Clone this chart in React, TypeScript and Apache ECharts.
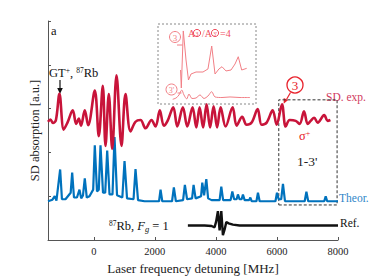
import React, { useEffect, useRef } from "react";
import * as echarts from "echarts";

// ---- Data (x: laser detuning in MHz, y: absorption in a.u.) ----
const xTicks = [0, 2000, 4000, 6000, 8000];

const expX = [-1500, -1420, -1338, -1240, -1125, -984, -862, -689, -577, -492, -420, -295, -184, 33, 164, 295, 384, 492, 603, 744, 908, 1039, 1203, 1367, 1531, 1695, 1892, 2023, 2164, 2295, 2417, 2604, 2735, 2918, 3063, 3236, 3358, 3466, 3581, 3695, 3810, 3925, 4040, 4155, 4318, 4548, 4679, 4860, 5007, 5171, 5368, 5499, 5663, 5860, 5991, 6165, 6286, 6417, 6614, 6745, 6886, 7007, 7106, 7220, 7335, 7548, 7663, 7752];
const expY = [2.70, 2.75, 2.67, 2.74, 3.34, 2.52, 2.68, 2.96, 2.65, 2.77, 2.61, 2.96, 2.62, 3.41, 2.37, 3.52, 2.15, 3.33, 2.08, 3.76, 2.15, 3.33, 2.48, 2.70, 2.74, 2.55, 2.74, 2.59, 2.96, 2.61, 2.72, 3.03, 2.59, 3.03, 2.59, 3.03, 2.57, 3.03, 2.57, 3.10, 2.57, 3.05, 2.57, 3.03, 2.59, 3.03, 2.61, 2.81, 2.63, 2.68, 2.99, 2.63, 2.68, 2.96, 2.63, 3.10, 2.59, 2.74, 2.72, 2.65, 2.94, 2.65, 2.72, 2.79, 2.68, 2.85, 2.72, 2.74];

const theoX = [-1500, -1354, -1279, -1223, -1102, -1043, -928, -757, -708, -649, -551, -469, -413, -354, -295, -230, -141, -20, 33, 105, 164, 220, 302, 374, 439, 515, 613, 679, 761, 935, 1007, 1089, 1302, 1367, 1449, 1662, 2138, 2187, 2243, 2564, 2623, 2689, 2925, 2984, 3056, 3220, 3269, 3335, 3515, 3554, 3613, 3686, 3745, 3859, 4122, 4177, 4236, 4482, 4538, 4597, 4679, 4722, 4777, 4843, 4886, 4942, 5089, 5128, 5171, 5328, 5378, 5433, 5951, 6001, 6057, 6139, 6197, 6263, 6909, 6965, 7024, 7548, 7597, 7646, 8000];
const theoY = [0.885, 0.92, 1.00, 0.90, 1.61, 0.93, 0.93, 1.08, 1.54, 0.97, 0.97, 1.15, 0.95, 1.02, 1.41, 0.97, 1.00, 1.15, 2.16, 1.11, 1.15, 2.16, 1.08, 1.08, 2.04, 1.04, 1.04, 2.35, 1.02, 0.97, 1.80, 0.95, 0.93, 1.62, 0.91, 0.885, 0.885, 1.15, 0.885, 0.885, 1.20, 0.885, 0.91, 1.26, 0.93, 0.95, 1.26, 0.95, 1.00, 1.31, 1.02, 1.39, 0.95, 0.91, 0.91, 1.22, 0.91, 0.91, 1.11, 0.93, 0.93, 1.04, 0.93, 0.93, 1.04, 0.91, 0.91, 0.97, 0.885, 0.885, 1.08, 0.885, 0.885, 1.08, 0.93, 0.93, 1.28, 0.885, 0.885, 1.10, 0.885, 0.885, 0.996, 0.885, 0.885];

const refX = [3082, 3630, 3859, 3957, 4007, 4066, 4122, 4177, 4230, 4286, 4341, 4417, 4557, 4777, 8000];
const refY = [0.33, 0.33, 0.32, 0.29, 0.42, 0.66, 0.22, 0.66, 0.11, 0.24, 0.41, 0.38, 0.35, 0.33, 0.33];

// Inset (arbitrary units)
const insetAX = [23.0, 23.8, 25.8, 28.6, 31.1, 33.7, 38.8, 45.9, 51.0, 54.8, 58.2, 62.2, 65.3, 69.4, 74.5, 78.6, 81.9, 85.4, 90.5];
const insetAY = [42.5, 20, 91.3, 55, 30, 37.5, 40, 40, 43.8, 72.5, 37.5, 43.8, 46.6, 41.3, 42.5, 50, 59.1, 42.5, 44.6];
const insetBX = [15.0, 18.4, 21.4, 24.2, 26.5, 29.3, 31.6, 34.7, 38.8, 42.9, 46.9, 51.0, 54.8, 58.2, 65.3, 73.5, 83.7, 93.9];
const insetBY = [5.9, 7.5, 11.3, 17.5, 11.3, 6.3, 12.5, 6.9, 7.5, 11.3, 6.9, 10, 15.4, 8.8, 8.1, 8.8, 8.1, 8.1];

const zip = (xs: number[], ys: number[]) => xs.map((x, i) => [x, ys[i]]);

const SERIF = '"Liberation Serif", "DejaVu Serif", serif';
const RED = "#c8143a";
const BLUE = "#0072bd";
const PINK = "#f27f86";
const BRIGHT = "#e8202a";

function txt(x: number, y: number, text: string, size: number, fill: string, extra: any = {}) {
  return {
    type: "text",
    x,
    y,
    style: { text, fontSize: size, fontFamily: SERIF, fill, verticalAlign: "middle", ...extra },
  };
}

function circ(cx: number, cy: number, r: number, color: string, label: string, size: number, lw = 1) {
  return [
    { type: "circle", shape: { cx, cy, r }, style: { fill: "none", stroke: color, lineWidth: lw } },
    txt(cx, cy + 0.5, label, size, color, { align: "center" }),
  ];
}

export default function App() {
  const ref = useRef<HTMLDivElement>(null);
  useEffect(() => {
    const chart = echarts.init(ref.current!, null, { renderer: "svg" });
    const axisColor = "#555";
    const option: any = {
      animation: false,
      backgroundColor: "#fff",
      grid: [
        { left: 48, right: 36, top: 21, bottom: 33 },
        { left: 158, top: 24, width: 98, height: 80 },
      ],
      xAxis: [
        {
          type: "value",
          gridIndex: 0,
          min: -1500,
          max: 8000,
          axisLine: { show: true, onZero: false, lineStyle: { color: axisColor } },
          axisTick: { show: true, inside: true, length: 3, customValues: xTicks, lineStyle: { color: axisColor } },
          axisLabel: {
            customValues: xTicks,
            formatter: (v: number) => String(v),
            color: "#222",
            fontFamily: SERIF,
            fontSize: 10.5,
            margin: 6,
          },
          splitLine: { show: false },
          name: "Laser frequency detuning [MHz]",
          nameLocation: "middle",
          nameGap: 22,
          nameTextStyle: { fontFamily: SERIF, fontSize: 13, color: "#222" },
        },
        { type: "value", gridIndex: 1, min: 0, max: 100, show: false },
      ],
      yAxis: [
        {
          type: "value",
          gridIndex: 0,
          min: 0,
          max: 5,
          interval: 1,
          axisLine: { show: true, onZero: false, lineStyle: { color: axisColor } },
          axisTick: { show: true, inside: true, length: 3, lineStyle: { color: axisColor } },
          axisLabel: { show: false },
          splitLine: { show: false },
          name: "SD absorption [a.u.]",
          nameLocation: "middle",
          nameGap: 7,
          nameTextStyle: { fontFamily: SERIF, fontSize: 12.5, color: "#222" },
        },
        { type: "value", gridIndex: 1, min: 0, max: 100, show: false },
      ],
      series: [
        {
          type: "line",
          xAxisIndex: 0,
          yAxisIndex: 0,
          data: zip(refX, refY),
          showSymbol: false,
          lineStyle: { color: "#111", width: 2.4 },
        },
        {
          type: "line",
          xAxisIndex: 0,
          yAxisIndex: 0,
          data: zip(theoX, theoY),
          showSymbol: false,
          lineStyle: { color: BLUE, width: 2.2 },
          markArea: {
            silent: true,
            itemStyle: { color: "rgba(0,0,0,0)", borderColor: "#333", borderWidth: 1, borderType: [3, 2] },
            data: [[{ xAxis: 6060, yAxis: 0.8 }, { xAxis: 7970, yAxis: 3.2 }]],
          },
        },
        {
          type: "line",
          xAxisIndex: 0,
          yAxisIndex: 0,
          data: zip(expX, expY),
          showSymbol: false,
          smooth: 0.35,
          lineStyle: { color: RED, width: 2.6 },
        },
        {
          type: "line",
          xAxisIndex: 1,
          yAxisIndex: 1,
          data: zip(insetAX, insetAY),
          showSymbol: false,
          lineStyle: { color: PINK, width: 1 },
        },
        {
          type: "line",
          xAxisIndex: 1,
          yAxisIndex: 1,
          data: zip(insetBX, insetBY),
          showSymbol: false,
          smooth: 0.3,
          lineStyle: { color: PINK, width: 1 },
        },
      ],
      graphic: [
        { type: "rect", shape: { x: 158, y: 24, width: 98, height: 80 }, style: { fill: "none", stroke: "#888", lineWidth: 1, lineDash: [2, 2] } },
        txt(51, 31, "a", 12.5, "#111"),
        {
          type: "text",
          x: 49,
          y: 73,
          style: {
            text: "GT{p|+}, {p|87}Rb",
            fontSize: 12.5,
            fontFamily: SERIF,
            fill: "#111",
            verticalAlign: "middle",
            rich: { p: { fontSize: 7.5, fontFamily: SERIF, fill: "#111", verticalAlign: "top", lineHeight: 14 } },
            lineHeight: 14,
          },
        },
        { type: "line", shape: { x1: 60, y1: 80, x2: 60, y2: 89 }, style: { stroke: "#111", lineWidth: 1.2 } },
        { type: "polygon", shape: { points: [[57.2, 88], [62.8, 88], [60, 94]] }, style: { fill: "#111" } },
        // big circled 3 with arrow
        ...circ(295, 85, 8, BRIGHT, "3", 13, 1.3),
        { type: "line", shape: { x1: 290.5, y1: 92.5, x2: 286.5, y2: 99.5 }, style: { stroke: BRIGHT, lineWidth: 1.2 } },
        { type: "polygon", shape: { points: [[288.1, 100.1], [283.7, 97.9], [283.7, 103.8]] }, style: { fill: BRIGHT } },
        txt(326, 97, "SD. exp.", 11.5, "#d23a60"),
        {
          type: "text",
          x: 299,
          y: 136,
          style: {
            text: "σ{p|+}",
            fontSize: 12.5,
            fontFamily: SERIF,
            fill: BRIGHT,
            verticalAlign: "middle",
            lineHeight: 14,
            rich: { p: { fontSize: 8, fontFamily: SERIF, fill: BRIGHT, verticalAlign: "top", lineHeight: 14 } },
          },
        },
        txt(297, 161, "1-3'", 13.5, "#222"),
        txt(339, 198, "Theor.", 11.5, "#2f86c8"),
        txt(340, 223, "Ref.", 11.5, "#111"),
        {
          type: "text",
          x: 109,
          y: 226,
          style: {
            text: "{p|87}Rb, {i|F}{s|g} = 1",
            fontSize: 12.5,
            fontFamily: SERIF,
            fill: "#111",
            verticalAlign: "middle",
            lineHeight: 14,
            rich: {
              p: { fontSize: 7.5, fontFamily: SERIF, fill: "#111", verticalAlign: "top", lineHeight: 14 },
              i: { fontSize: 12.5, fontFamily: SERIF, fontStyle: "italic", fill: "#111", lineHeight: 14 },
              s: { fontSize: 8.5, fontFamily: SERIF, fontStyle: "italic", fill: "#111", verticalAlign: "bottom", lineHeight: 14 },
            },
          },
        },
        // inset annotations
        ...circ(175, 37, 5.5, PINK, "3", 9),
        { type: "line", shape: { x1: 177, y1: 45, x2: 182.5, y2: 45 }, style: { stroke: PINK, lineWidth: 1 } },
        ...circ(171.5, 89.5, 5.5, PINK, "3'", 8),
        { type: "line", shape: { x1: 177.5, y1: 93, x2: 181.5, y2: 93 }, style: { stroke: PINK, lineWidth: 1 } },
        txt(188, 33, "A", 10, "#f0505f"),
        ...circ(197, 33, 3.6, "#f0505f", "3", 6),
        txt(202, 33, "/A", 10, "#f0505f"),
        ...circ(215, 33, 3.6, "#f0505f", "3'", 5.5),
        txt(220, 33, "=4", 10, "#f0505f"),
      ],
    };
    chart.setOption(option);
    return () => chart.dispose();
  }, []);
  return (
    <div
      ref={ref}
      style={{ position: "fixed", left: 0, top: 0, width: 374, height: 280, background: "#fff" }}
    />
  );
}
